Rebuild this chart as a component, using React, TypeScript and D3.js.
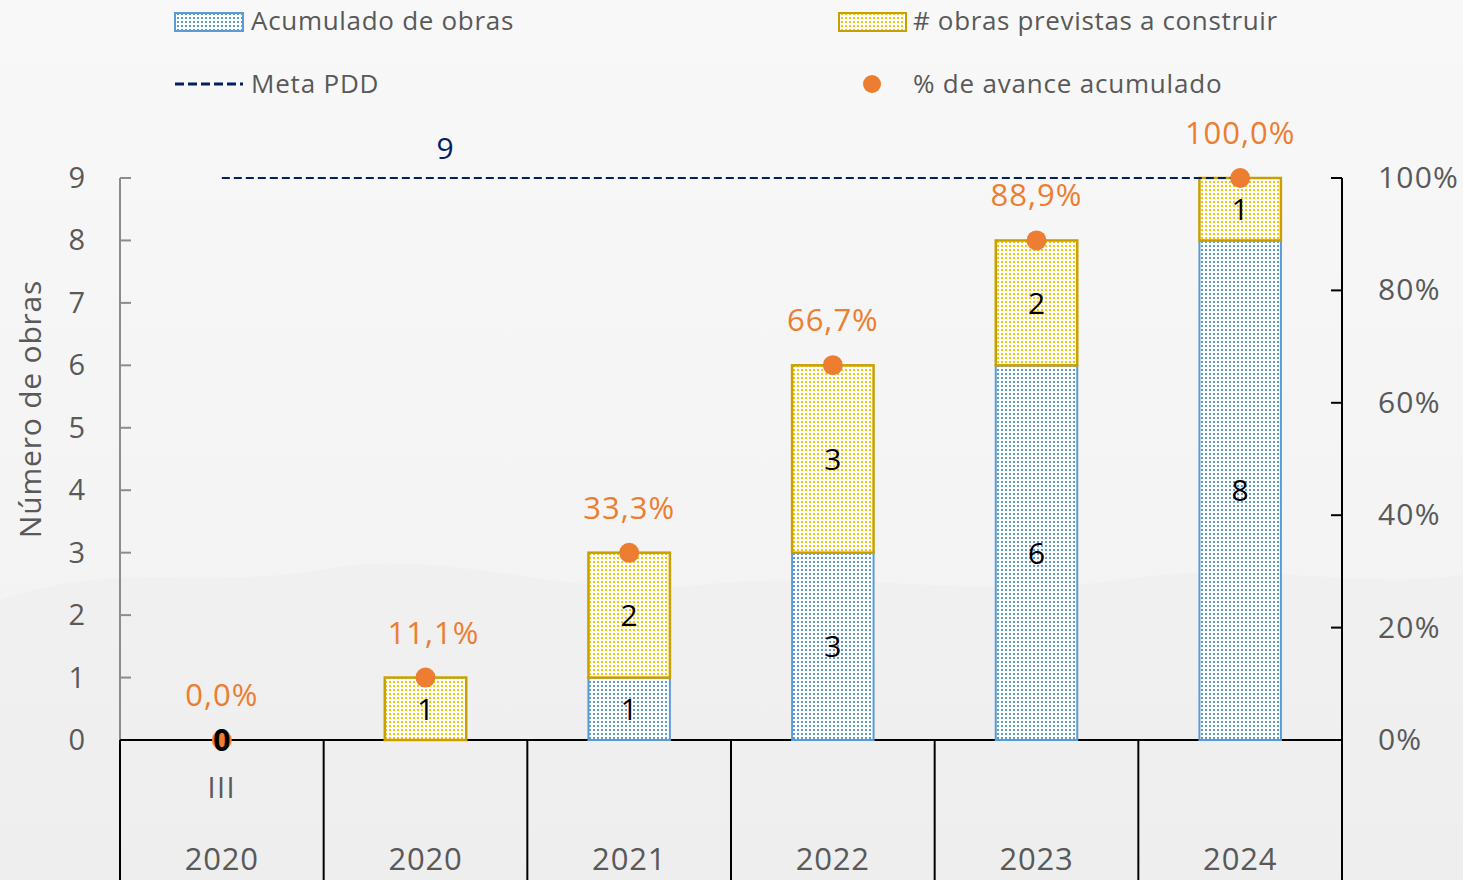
import React from "react";
import * as d3 from "d3";

const categoriesTop = ["III", "", "", "", "", ""];
const categoriesYear = ["2020", "2020", "2021", "2022", "2023", "2024"];
const acumulado = [0, 0, 1, 3, 6, 8];
const previstas = [0, 1, 2, 3, 2, 1];
const avancePct = [0, 11.1, 33.3, 66.7, 88.9, 100];
const metaPDD = [9, 9, 9, 9, 9, 9];
const leftTicks = [0, 1, 2, 3, 4, 5, 6, 7, 8, 9];
const rightTicks = [0, 20, 40, 60, 80, 100];

const W = 1463;
const H = 880;
const FONT = "'Open Sans', 'Noto Sans', sans-serif";

export default function App() {
  const left = 120;
  const right = 1342;
  const top = 178;
  const bottom = 740;

  const x = d3.scaleBand<number>().domain(d3.range(categoriesYear.length)).range([left, right]).padding(0);
  const y = d3.scaleLinear().domain([0, 9]).range([bottom, top]);
  const yR = d3.scaleLinear().domain([0, 100]).range([bottom, top]);
  const bw = x.bandwidth() * 0.4;
  const cx = (i: number) => (x(i) as number) + x.bandwidth() / 2;
  const fmtPct = (v: number) => v.toFixed(1).replace(".", ",") + "%";

  const metaLine = d3
    .line<number>()
    .x((_, i) => cx(i))
    .y((v) => y(v));

  return (
    <svg width={W} height={H} style={{ display: "block", position: "absolute", left: 0, top: 0 }}>
      <defs>
        <linearGradient id="bg" x1="0" y1="0" x2="0" y2="1">
          <stop offset="0" stopColor="#f8f8f8" />
          <stop offset="0.6" stopColor="#f4f4f4" />
          <stop offset="1" stopColor="#f1f1f1" />
        </linearGradient>
        <pattern id="dotsBlue" width="4" height="4" patternUnits="userSpaceOnUse">
          <rect width="4" height="4" fill="#ffffff" />
          <rect x="1" y="1" width="2" height="2" fill="#5b9bd5" />
        </pattern>
        <pattern id="dotsYellow" width="4" height="4" patternUnits="userSpaceOnUse">
          <rect width="4" height="4" fill="#ffffff" />
          <rect x="1" y="1" width="2" height="2" fill="#ffc000" />
        </pattern>
      </defs>
      <rect width={W} height={H} fill="url(#bg)" />
      <path
        d="M0,600 C120,560 200,590 320,570 C450,545 560,600 700,585 C850,570 980,600 1120,580 C1250,560 1360,590 1463,575 L1463,880 L0,880 Z"
        fill="#ececec"
        opacity="0.4"
      />

      {/* Legend */}
      <rect x={175} y={13} width={68} height={18} fill="url(#dotsBlue)" stroke="#5b9bd5" strokeWidth={2} />
      <text x={251} y={30} fontFamily={FONT} fontSize={26} letterSpacing={0.7} fill="#595959">Acumulado de obras</text>
      <rect x={839} y={13} width={67} height={18} fill="url(#dotsYellow)" stroke="#c9a000" strokeWidth={2} />
      <text x={913} y={30} fontFamily={FONT} fontSize={26} letterSpacing={0.65} fill="#595959"># obras previstas a construir</text>
      <line x1={175} x2={243} y1={84} y2={84} stroke="#002060" strokeWidth={3} strokeDasharray="9,4" />
      <text x={251} y={93} fontFamily={FONT} fontSize={26} letterSpacing={0.8} fill="#595959">Meta PDD</text>
      <circle cx={872} cy={84} r={9} fill="#ed7d31" />
      <text x={913} y={93} fontFamily={FONT} fontSize={26} letterSpacing={0.8} fill="#595959">% de avance acumulado</text>

      {/* Left axis */}
      <line x1={left} x2={left} y1={top} y2={bottom} stroke="#8c8c8c" strokeWidth={2} />
      {leftTicks.map((t) => (
        <g key={"lt" + t}>
          <line x1={left} x2={left + 11} y1={y(t)} y2={y(t)} stroke="#8c8c8c" strokeWidth={2} />
          <text x={85} y={y(t) + 10} textAnchor="end" fontFamily={FONT} fontSize={29} fill="#595959">{t}</text>
        </g>
      ))}
      <text
        transform={`translate(41,${(top + bottom) / 2 - 50}) rotate(-90)`}
        textAnchor="middle"
        fontFamily={FONT}
        fontSize={30}
        letterSpacing={0.8}
        fill="#595959"
      >
        Número de obras
      </text>

      {/* Right axis */}
      <line x1={right} x2={right} y1={top} y2={H} stroke="#000" strokeWidth={2} />
      {rightTicks.map((t) => (
        <g key={"rt" + t}>
          <line x1={right - 11} x2={right} y1={yR(t)} y2={yR(t)} stroke="#000" strokeWidth={2} />
          <text x={1378} y={yR(t) + 10} fontFamily={FONT} fontSize={30} letterSpacing={1.2} fill="#595959">{t}%</text>
        </g>
      ))}

      {/* Category axis */}
      <line x1={left} x2={right} y1={bottom} y2={bottom} stroke="#000" strokeWidth={2} />
      {d3.range(categoriesYear.length + 1).map((i) => {
        const xx = i < categoriesYear.length ? (x(i) as number) : right;
        return <line key={"sep" + i} x1={xx} x2={xx} y1={bottom} y2={H} stroke="#000" strokeWidth={2} />;
      })}
      {categoriesTop.map((c, i) =>
        c ? (
          <text key={"ct" + i} x={cx(i)} y={798} textAnchor="middle" fontFamily={FONT} fontSize={29} letterSpacing={1.5} fill="#595959">{c}</text>
        ) : null
      )}
      {categoriesYear.map((c, i) => (
        <text key={"cy" + i} x={cx(i)} y={870} textAnchor="middle" fontFamily={FONT} fontSize={31} letterSpacing={0.8} fill="#595959">{c}</text>
      ))}

      {/* Bars */}
      {categoriesYear.map((_, i) => {
        const a = acumulado[i];
        const p = previstas[i];
        const x0 = cx(i) - bw / 2;
        return (
          <g key={"bar" + i}>
            {a > 0 && (
              <rect x={x0} y={y(a)} width={bw} height={y(0) - y(a)} fill="url(#dotsBlue)" stroke="#5b9bd5" strokeWidth={2} />
            )}
            {p > 0 && (
              <rect x={x0} y={y(a + p)} width={bw} height={y(a) - y(a + p)} fill="url(#dotsYellow)" stroke="#c9a000" strokeWidth={2.5} />
            )}
          </g>
        );
      })}

      {/* Meta line */}
      <path d={metaLine(metaPDD) || ""} fill="none" stroke="#002060" strokeWidth={2} strokeDasharray="8,4" />
      <text x={445} y={159} textAnchor="middle" fontFamily={FONT} fontSize={30} fill="#002060">{metaPDD[1]}</text>

      {/* Bar labels */}
      {categoriesYear.map((_, i) => {
        const a = acumulado[i];
        const p = previstas[i];
        return (
          <g key={"lab" + i}>
            {a > 0 && (
              <text x={cx(i)} y={(y(0) + y(a)) / 2 + 11} textAnchor="middle" fontFamily={FONT} fontSize={30} fill="#000">{a}</text>
            )}
            {p > 0 && (
              <text x={cx(i)} y={(y(a) + y(a + p)) / 2 + 11} textAnchor="middle" fontFamily={FONT} fontSize={30} fill="#000">{p}</text>
            )}
          </g>
        );
      })}

      {/* % points */}
      {avancePct.map((v, i) => (
        <g key={"pt" + i}>
          <circle cx={cx(i)} cy={yR(v)} r={10} fill="#ed7d31" />
          <text x={cx(i) + (i === 1 ? 8 : 0)} y={yR(v) - 34} textAnchor="middle" fontFamily={FONT} fontSize={31} letterSpacing={1} fill="#ed7d31">{fmtPct(v)}</text>
        </g>
      ))}
      {acumulado[0] === 0 && (
        <text x={cx(0)} y={y(0) + 11} textAnchor="middle" fontFamily={FONT} fontSize={30} fontWeight="bold" fill="#000">0</text>
      )}
    </svg>
  );
}
